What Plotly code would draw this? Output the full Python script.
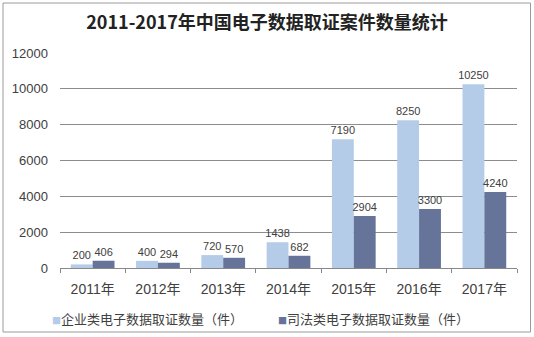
import plotly.graph_objects as go

years = ["2011年", "2012年", "2013年", "2014年", "2015年", "2016年", "2017年"]
enterprise = [200, 400, 720, 1438, 7190, 8250, 10250]
judicial = [406, 294, 570, 682, 2904, 3300, 4240]
series_names = ["企业类电子数据取证数量（件）", "司法类电子数据取证数量（件）"]
series_colors = ["#B4CCE8", "#66749A"]
title_text = "2011-2017年中国电子数据取证案件数量统计"

W, H = 534, 337
L, R, T, B = 60, 17, 53, 69
pw, ph = W - L - R, H - T - B

def px_to_paper(x, y):
    return (x - L) / pw, (H - B - y) / ph

fig = go.Figure()
for vals, name, color in zip([enterprise, judicial], series_names, series_colors):
    fig.add_trace(go.Bar(
        x=years, y=vals, name=name, showlegend=False,
        marker=dict(color=color, line=dict(width=0)),
        text=[str(v) for v in vals], textposition="outside", constraintext="none",
        textfont=dict(size=11, color="#404040", family="Liberation Sans, Arial"),
        cliponaxis=False,
    ))

# legend drawn as text entries with a small coloured square
legend_pos = [(50, 318), (276, 318)]
annotations = []
for (lx, ly), name, color in zip(legend_pos, series_names, series_colors):
    ax, ay = px_to_paper(lx, ly)
    annotations.append(dict(
        x=ax, y=ay, xref="paper", yref="paper", xanchor="left", yanchor="middle",
        showarrow=False,
        text=f"<span style='color:{color};font-size:9px'>■</span>{name}",
        font=dict(size=13, color="#404040", family="Noto Sans CJK SC"),
    ))

x0, y0 = px_to_paper(3, 3)
x1, y1 = px_to_paper(530.5, 332)

fig.update_layout(
    width=W, height=H,
    margin=dict(l=L, r=R, t=T, b=B, autoexpand=False),
    paper_bgcolor="white", plot_bgcolor="white",
    barmode="group", bargap=0.33, bargroupgap=0,
    showlegend=False,
    font=dict(family="Liberation Sans, Arial, Noto Sans CJK SC", color="#404040"),
    title=dict(
        text=f"<b>{title_text}</b>", x=0.5, xref="container", y=1 - 23 / H, yref="container",
        xanchor="center", yanchor="middle",
        font=dict(size=18, color="#222222", family="Noto Sans CJK SC"),
    ),
    xaxis=dict(
        showgrid=False, showline=True, linecolor="#888888", linewidth=1,
        ticks="outside", tickson="boundaries", ticklen=4, tickcolor="#888888",
        ticklabelstandoff=8, automargin=False,
        tickfont=dict(size=14, color="#404040", family="Liberation Sans, Noto Sans CJK SC"),
    ),
    yaxis=dict(
        range=[0, 12000], dtick=2000, showgrid=True, gridcolor="#8C8C8C", gridwidth=1,
        zeroline=False, showline=False, ticks="", ticklen=0,
        ticklabelstandoff=11, automargin=False,
        tickfont=dict(size=13, color="#404040", family="Liberation Sans, Arial"),
        tickformat="d",
    ),
    annotations=annotations,
    shapes=[dict(
        type="rect", xref="paper", yref="paper", x0=x0, y0=y0, x1=x1, y1=y1,
        line=dict(color="#9A9A9A", width=1), fillcolor="rgba(0,0,0,0)", layer="above",
    )],
)

fig.write_html("out.html")
